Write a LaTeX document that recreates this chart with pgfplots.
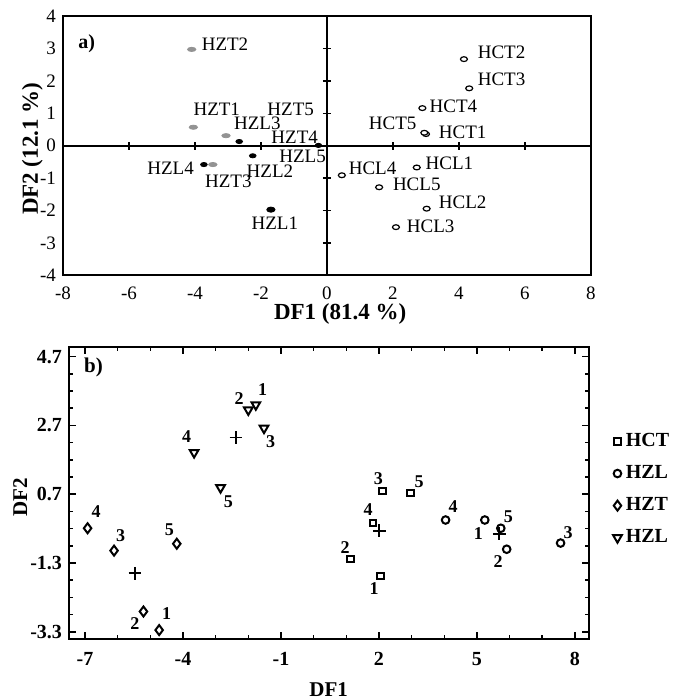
\documentclass[border=0pt]{standalone}
\usepackage{pgfplots}
\pgfplotsset{compat=1.18}
\usepackage{fontspec}
\setmainfont{Liberation Serif}
\begin{document}
\begin{tikzpicture}
\path[use as bounding box] (0,0) rectangle (336.5pt,350pt);
% ---------------- panel a ----------------
\begin{axis}[
 at={(31.5pt,212.25pt)}, anchor=south west, scale only axis,
 width=264pt, height=129.75pt,
 xmin=-8,xmax=8,ymin=-4,ymax=4,
 xtick={-8,-6,...,8}, ytick={-4,...,4},
 major tick length=0pt,
 axis line style={line width=1pt},
 /pgf/number format/assume math mode=true,
 ticklabel style={font=\fontsize{9.5}{10}\selectfont},
 xticklabel style={yshift=-2pt},
 xlabel={DF1 (81.4 \%)}, ylabel={DF2 (12.1 \%)},
 every axis x label/.style={at={(axis description cs:0.525,-0.15)},anchor=center,font=\bfseries\fontsize{11.5}{13}\selectfont},
 every axis y label/.style={at={(axis description cs:-0.058,0.488)},anchor=center,rotate=90,font=\bfseries\fontsize{11.5}{13}\selectfont},
 clip=false,
]
\addplot[only marks, mark=*, mark size=1.05pt, color=gray!85, mark options={xscale=2}]
 coordinates {(-4.10,2.97) (-4.05,0.57) (-3.06,0.31) (-3.46,-0.58)};
\addplot[only marks, mark=*, mark size=1.05pt, color=black, mark options={xscale=1.6}]
 coordinates {(-2.66,0.13) (-0.26,0.01) (-2.25,-0.31) (-3.73,-0.58)};
\addplot[only marks, mark=*, mark size=1.3pt, color=black, mark options={xscale=1.6}]
 coordinates {(-1.70,-1.97)};
\addplot[only marks, mark=*, mark size=1.2pt, mark options={xscale=1.45, fill=white, draw=black, line width=0.6pt}]
 coordinates {(4.15,2.67) (4.31,1.77) (2.89,1.16) (3.0,0.36) (2.95,0.40) (2.72,-0.67) (0.45,-0.91) (1.58,-1.28) (3.02,-1.94) (2.09,-2.51)};
\addplot[only marks, mark=none, nodes near coords, point meta=explicit symbolic,
 nodes near coords align=center,
 every node near coord/.append style={anchor=center, inner sep=0pt, font=\fontsize{9.5}{11}\selectfont}]
 table[meta=lab] {
x y lab
-3.09 3.14 HZT2
-3.34 1.13 HZT1
-2.11 0.70 HZL3
-1.10 1.12 HZT5
-0.98 0.26 HZT4
-0.74 -0.34 HZL5
-1.73 -0.79 HZL2
-4.74 -0.69 HZL4
-2.99 -1.10 HZT3
-1.58 -2.40 HZL1
5.29 2.87 HCT2
5.29 2.05 HCT3
3.83 1.21 HCT4
1.99 0.70 HCT5
4.11 0.41 HCT1
3.71 -0.53 HCL1
1.38 -0.69 HCL4
2.72 -1.20 HCL5
4.11 -1.74 HCL2
3.14 -2.48 HCL3
};
\node[font=\bfseries\fontsize{10}{12}\selectfont] at (rel axis cs:0.045,0.895) {a)};
\end{axis}
\begin{axis}[
 at={(31.5pt,212.25pt)}, anchor=south west, scale only axis,
 width=264pt, height=129.75pt,
 xmin=-8,xmax=8,ymin=-4,ymax=4,
 axis lines=middle, axis line style={-, line width=1.1pt},
 xtick={-6,-4,-2,2,4,6}, ytick={-3,-2,-1,1,2,3},
 xticklabels={}, yticklabels={},
 tick align=center, major tick length=4pt, tick style={line width=0.8pt, black},
]
\end{axis}
% ---------------- panel b ----------------
\begin{axis}[
 at={(34.5pt,30.5pt)}, anchor=south west, scale only axis,
 width=260.15pt, height=146pt,
 xmin=-7.49, xmax=8.44, ymin=-3.51, ymax=4.98,
 xtick={-7,-4,-1,2,5,8},
 minor xtick={-6,-5,-3,-2,0,1,3,4,6,7},
 ytick={-3.3,-1.3,0.7,2.7,4.7},
 minor ytick={-2.8,-2.3,-1.8,-0.8,-0.3,0.2,1.2,1.7,2.2,3.2,3.7,4.2},
 tick align=inside, major tick length=3.5pt, minor tick length=2pt,
 tick style={line width=0.8pt, black},
 axis line style={line width=1pt},
 /pgf/number format/assume math mode=true,
 yticklabel style={/pgf/number format/fixed, /pgf/number format/precision=1},
 ticklabel style={font=\bfseries\fontsize{10}{12}\selectfont},
 xticklabel style={yshift=-3pt},
 xlabel={DF1}, ylabel={DF2},
 every axis x label/.style={at={(axis description cs:0.499,-0.173)},anchor=center,font=\bfseries\fontsize{10.5}{12}\selectfont},
 every axis y label/.style={at={(axis description cs:-0.094,0.486)},anchor=center,rotate=90,font=\bfseries\fontsize{10.5}{12}\selectfont},
 legend style={at={(1.045,0.512)}, anchor=west, draw=none, fill=none,
   font=\bfseries\fontsize{10}{12}\selectfont, row sep=4pt, inner sep=0pt},
 legend cell align=left,
 legend image code/.code={\draw plot coordinates {(0.1cm,0cm)};},
 clip=false,
]
\addplot[only marks, mark=square, mark size=1.6pt, line width=1pt]
 coordinates {(2.05,-1.67) (1.13,-1.19) (2.11,0.80) (1.81,-0.13) (2.97,0.73)};
\addlegendentry{HCT}
\addplot[only marks, mark=o, mark size=1.9pt, line width=1pt]
 coordinates {(5.24,-0.05) (5.91,-0.90) (7.56,-0.72) (4.04,-0.05) (5.73,-0.29)};
\addlegendentry{HZL}
\addplot[only marks, mark=diamond, mark size=2.5pt, line width=1pt]
 coordinates {(-4.73,-3.25) (-5.21,-2.71) (-6.11,-0.94) (-6.92,-0.29) (-4.19,-0.74)};
\addlegendentry{HZT}
\addplot[only marks, mark=triangle, mark size=2.5pt, line width=1pt, mark options={rotate=180}]
 coordinates {(-1.77,3.30) (-2.0,3.15) (-1.52,2.62) (-3.66,1.91) (-2.85,0.89)};
\addlegendentry{HZL}
\addplot[forget plot, only marks, mark=+, mark size=3.2pt, line width=0.9pt]
 coordinates {(-2.38,2.35) (-5.47,-1.60) (2.01,-0.36) (5.68,-0.45)};
\addplot[forget plot, only marks, mark=none, nodes near coords, point meta=explicit symbolic,
 nodes near coords align=center,
 every node near coord/.append style={anchor=center, inner sep=0pt, font=\bfseries\fontsize{9}{10}\selectfont}]
 table[meta=lab] {
x y lab
-1.56 3.73 1
-2.28 3.49 2
-1.32 2.23 3
-3.89 2.39 4
-2.61 0.48 5
-4.50 -2.78 1
-5.47 -3.07 2
-5.91 -0.51 3
-6.66 0.19 4
-4.42 -0.32 5
1.85 -2.03 1
0.96 -0.84 2
1.98 1.14 3
1.67 0.24 4
3.23 1.07 5
5.04 -0.43 1
5.65 -1.26 2
7.79 -0.42 3
4.27 0.34 4
5.96 0.05 5
};
\node[font=\bfseries\fontsize{10.5}{12}\selectfont] at (rel axis cs:0.047,0.93) {b)};
\end{axis}
\end{tikzpicture}
\end{document}
